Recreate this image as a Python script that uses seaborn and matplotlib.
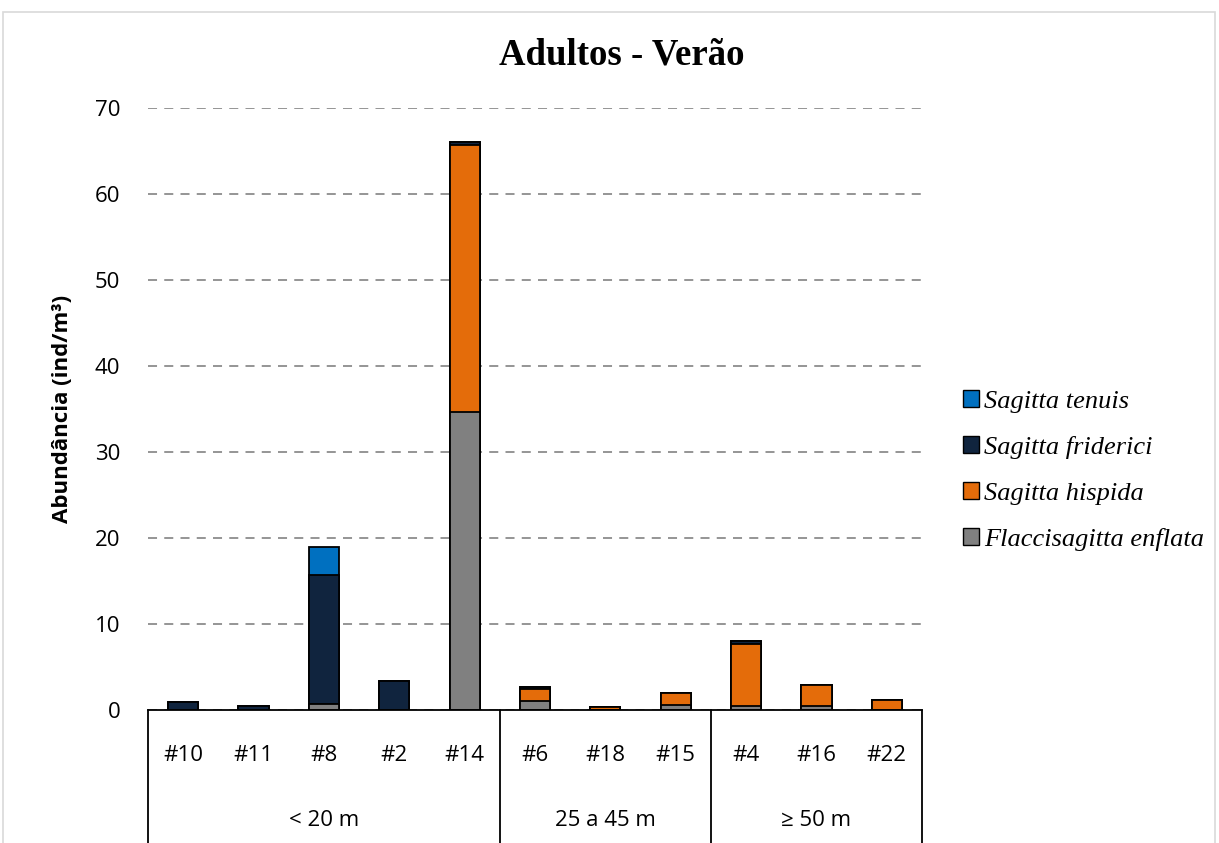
import matplotlib
matplotlib.use("Agg")
import matplotlib.pyplot as plt
import matplotlib.transforms as mtransforms
from matplotlib.patches import Patch, Rectangle
import seaborn as sns
import numpy as np

# estações (ordem do eixo) e grupos de profundidade
stations = ["#10", "#11", "#8", "#2", "#14", "#6", "#18", "#15", "#4", "#16", "#22"]
depth_groups = ["< 20 m", "25 a 45 m", "≥ 50 m"]
group_sizes = [5, 3, 3]

# abundâncias (ind/m³) por espécie
enflata = [0.0, 0.0, 0.7, 0.0, 34.7, 1.0, 0.0, 0.6, 0.5, 0.5, 0.0]
hispida = [0.0, 0.0, 0.0, 0.0, 31.0, 1.5, 0.4, 1.35, 7.2, 2.4, 1.2]
friderici = [0.9, 0.45, 15.0, 3.4, 0.4, 0.15, 0.0, 0.0, 0.3, 0.0, 0.0]
tenuis = [0.0, 0.0, 3.3, 0.0, 0.0, 0.0, 0.0, 0.0, 0.0, 0.0, 0.0]

species = ["Sagitta tenuis", "Sagitta friderici", "Sagitta hispida", "Flaccisagitta enflata"]
colors = ["#0070C0", "#10243E", "#E46C0A", "#808080"]

sns.set_style("white")
plt.rcParams["font.family"] = ["Open Sans", "DejaVu Sans"]
plt.rcParams["text.color"] = "black"
plt.rcParams["axes.labelcolor"] = "black"
plt.rcParams["xtick.color"] = "black"
plt.rcParams["ytick.color"] = "black"

fig = plt.figure(figsize=(12.19, 8.43), dpi=100)
ax = fig.add_axes([148 / 1219, 1 - 710 / 843, (922 - 148) / 1219, (710 - 108) / 843])

# empilhamento: desenha as somas acumuladas do topo para a base
layers = [enflata, hispida, friderici, tenuis]
cum = np.cumsum(np.array(layers), axis=0)
layer_colors = [colors[3], colors[2], colors[1], colors[0]]
for i in range(len(layers) - 1, -1, -1):
    sns.barplot(x=stations, y=cum[i], color=layer_colors[i], saturation=1,
                width=0.43, edgecolor="black", linewidth=1.3, ax=ax, zorder=3)

ax.set_ylim(0, 70)
ax.set_xlim(-0.5, 10.5)
ax.set_yticks(range(0, 71, 10))
ax.yaxis.grid(True, linestyle=(0, (5, 4)), color="#8C8C8C", linewidth=1.3)
ax.set_axisbelow(True)
for s in ["top", "right", "left"]:
    ax.spines[s].set_visible(False)
ax.spines["bottom"].set_color("black")
ax.spines["bottom"].set_linewidth(1.3)
ax.spines["bottom"].set_zorder(4)

ax.tick_params(axis="y", length=0, pad=20, labelsize=16)
ax.tick_params(axis="x", length=0, pad=25, labelsize=16)
ax.set_xlabel("")
ax.set_ylabel("Abundância (ind/m³)", fontsize=16, fontweight="bold", labelpad=16)

# tabela de categorias abaixo do eixo
trans = mtransforms.blended_transform_factory(ax.transData, ax.transAxes)
edges = np.concatenate([[0], np.cumsum(group_sizes)]) - 0.5
for e in edges:
    ax.plot([e, e], [0, -0.25], transform=trans, color="black", lw=1.3, clip_on=False)
for g, (a, b) in zip(depth_groups, zip(edges[:-1], edges[1:])):
    ax.text((a + b) / 2, -110 / 602, g, transform=trans, ha="center", va="center", fontsize=16)

ax.legend(handles=[Patch(facecolor=c, edgecolor="black", label=s) for c, s in zip(colors, species)],
          loc="center left", bbox_to_anchor=(1.022, 0.398), frameon=False,
          prop={"family": "Liberation Serif", "style": "italic", "size": 19},
          handlelength=0.6, handleheight=0.6, handletextpad=0.2, labelspacing=0.88)

fig.text(0.51, 1 - 55 / 843, "Adultos - Verão", ha="center", va="center",
         fontsize=26.5, fontweight="bold", family="Liberation Serif")

fig.patches.append(Rectangle((3 / 1219, -0.1), 1212 / 1219, 1.1 - 12 / 843,
                             transform=fig.transFigure, fill=False, edgecolor="#D9D9D9", lw=1.2))

fig.savefig("out.png", dpi=100)
